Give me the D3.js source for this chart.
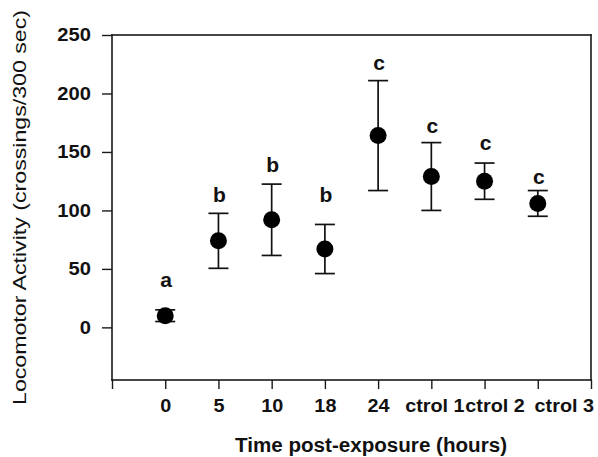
<!DOCTYPE html>
<html>
<head>
<meta charset="utf-8">
<script src="https://cdn.jsdelivr.net/npm/d3@7"></script>
<style>
  body { margin: 0; background: #fff; }
</style>
</head>
<body>
<svg id="chart" width="598" height="457"></svg>
<script>
// values
var categories = ["0", "5", "10", "18", "24", "ctrol 1", "ctrol 2", "ctrol 3"];
var means = [10, 74, 92, 67, 164, 129, 125, 106];
var errors = [5, 23.5, 30.5, 21, 47, 29, 15.5, 11];
var groups = ["a", "b", "b", "b", "c", "c", "c", "c"];
var groupLabelAt = [34.5, 107, 133, 107, 220, 166, 151.5, 123];
var yTicks = [0, 50, 100, 150, 200, 250];

var svg = d3.select("#chart");
var plotLeft = 112, plotRight = 591, plotTop = 35, plotBottom = 380;
var font = "Liberation Sans, Arial, sans-serif";

var x = d3.scaleLinear().domain([0, categories.length + 1]).range([plotLeft, plotRight]);
var y = d3.scaleLinear().domain([-45, 250]).range([plotBottom, plotTop]);

// stretch text horizontally like the scanned original
function stretch(sel, k) {
  sel.each(function() {
    var w = this.getComputedTextLength();
    if (w > 0) {
      this.setAttribute("textLength", w * k);
      this.setAttribute("lengthAdjust", "spacingAndGlyphs");
    }
  });
}

// y axis
var yAxis = svg.append("g")
  .attr("transform", "translate(" + plotLeft + ",0)")
  .call(d3.axisLeft(y).tickValues(yTicks).tickSize(10).tickPadding(11));
yAxis.select(".domain").remove();
yAxis.selectAll("line").attr("stroke", "#1a1a1a").attr("stroke-width", 1.4);
yAxis.selectAll("text")
  .attr("font-size", 18).attr("font-weight", "bold")
  .attr("font-family", font).attr("fill", "#111");
stretch(yAxis.selectAll("text"), 1.12);

// x axis (first tick unlabeled)
var labelShift = [0, 0, 0, 0, 0, 0, 3, 10, 26, 0];
var xAxis = svg.append("g")
  .attr("transform", "translate(0," + plotBottom + ")")
  .call(d3.axisBottom(x)
    .tickValues(d3.range(0, categories.length + 2))
    .tickSize(9).tickPadding(10)
    .tickFormat(function(d) { return d >= 1 && d <= categories.length ? categories[d - 1] : ""; }));
xAxis.select(".domain").remove();
xAxis.selectAll("line").attr("stroke", "#1a1a1a").attr("stroke-width", 1.4);
xAxis.selectAll("text")
  .attr("font-size", 18).attr("font-weight", "bold")
  .attr("font-family", font).attr("fill", "#111")
  .attr("dx", function(d) { return labelShift[d]; });
stretch(xAxis.selectAll("text"), 1.1);

// frame around the plot as four thin filled bars
var fw = 1.6;
var frameSides = [
  { x: plotLeft - fw / 2, y: plotTop - fw / 2, w: plotRight - plotLeft + fw, h: fw },
  { x: plotLeft - fw / 2, y: plotBottom - fw / 2, w: plotRight - plotLeft + fw, h: fw },
  { x: plotLeft - fw / 2, y: plotTop - fw / 2, w: fw, h: plotBottom - plotTop + fw },
  { x: plotRight - fw / 2, y: plotTop - fw / 2, w: fw, h: plotBottom - plotTop + fw }
];
svg.append("g").selectAll("rect")
  .data(frameSides)
  .enter().append("rect")
  .attr("x", function(d) { return d.x; })
  .attr("y", function(d) { return d.y; })
  .attr("width", function(d) { return d.w; })
  .attr("height", function(d) { return d.h; })
  .attr("fill", "#1a1a1a");

// error bars
var bars = svg.append("g").selectAll("g")
  .data(means)
  .enter().append("g")
  .attr("stroke", "#111").attr("stroke-width", 1.7);

bars.append("line")
  .attr("x1", function(d, i) { return x(i + 1); })
  .attr("x2", function(d, i) { return x(i + 1); })
  .attr("y1", function(d, i) { return y(d + errors[i]); })
  .attr("y2", function(d, i) { return y(d - errors[i]); });
bars.append("line")
  .attr("x1", function(d, i) { return x(i + 1) - 10; })
  .attr("x2", function(d, i) { return x(i + 1) + 10; })
  .attr("y1", function(d, i) { return y(d + errors[i]); })
  .attr("y2", function(d, i) { return y(d + errors[i]); });
bars.append("line")
  .attr("x1", function(d, i) { return x(i + 1) - 10; })
  .attr("x2", function(d, i) { return x(i + 1) + 10; })
  .attr("y1", function(d, i) { return y(d - errors[i]); })
  .attr("y2", function(d, i) { return y(d - errors[i]); });

// points
svg.append("g").selectAll("circle")
  .data(means)
  .enter().append("circle")
  .attr("cx", function(d, i) { return x(i + 1); })
  .attr("cy", function(d) { return y(d); })
  .attr("r", 8.5)
  .attr("fill", "#000");

// group letters
var letters = svg.append("g").selectAll("text")
  .data(groups)
  .enter().append("text")
  .attr("x", function(d, i) { return x(i + 1) + 1; })
  .attr("y", function(d, i) { return y(groupLabelAt[i]); })
  .attr("text-anchor", "middle")
  .attr("font-family", font).attr("fill", "#111")
  .attr("font-size", 19.5).attr("font-weight", "bold")
  .text(function(d) { return d; });
stretch(letters, 1.08);

// axis titles
svg.append("text")
  .attr("x", 371).attr("y", 451.5)
  .attr("text-anchor", "middle")
  .attr("font-family", font).attr("fill", "#111")
  .attr("font-size", 19.5).attr("font-weight", "bold")
  .attr("textLength", 272).attr("lengthAdjust", "spacingAndGlyphs")
  .text("Time post-exposure (hours)");

svg.append("text")
  .attr("transform", "translate(25.5,207.5) rotate(-90)")
  .attr("text-anchor", "middle")
  .attr("font-family", font).attr("fill", "#111")
  .attr("font-size", 18.5)
  .attr("textLength", 395).attr("lengthAdjust", "spacingAndGlyphs")
  .text("Locomotor Activity (crossings/300 sec)");
</script>
</body>
</html>
